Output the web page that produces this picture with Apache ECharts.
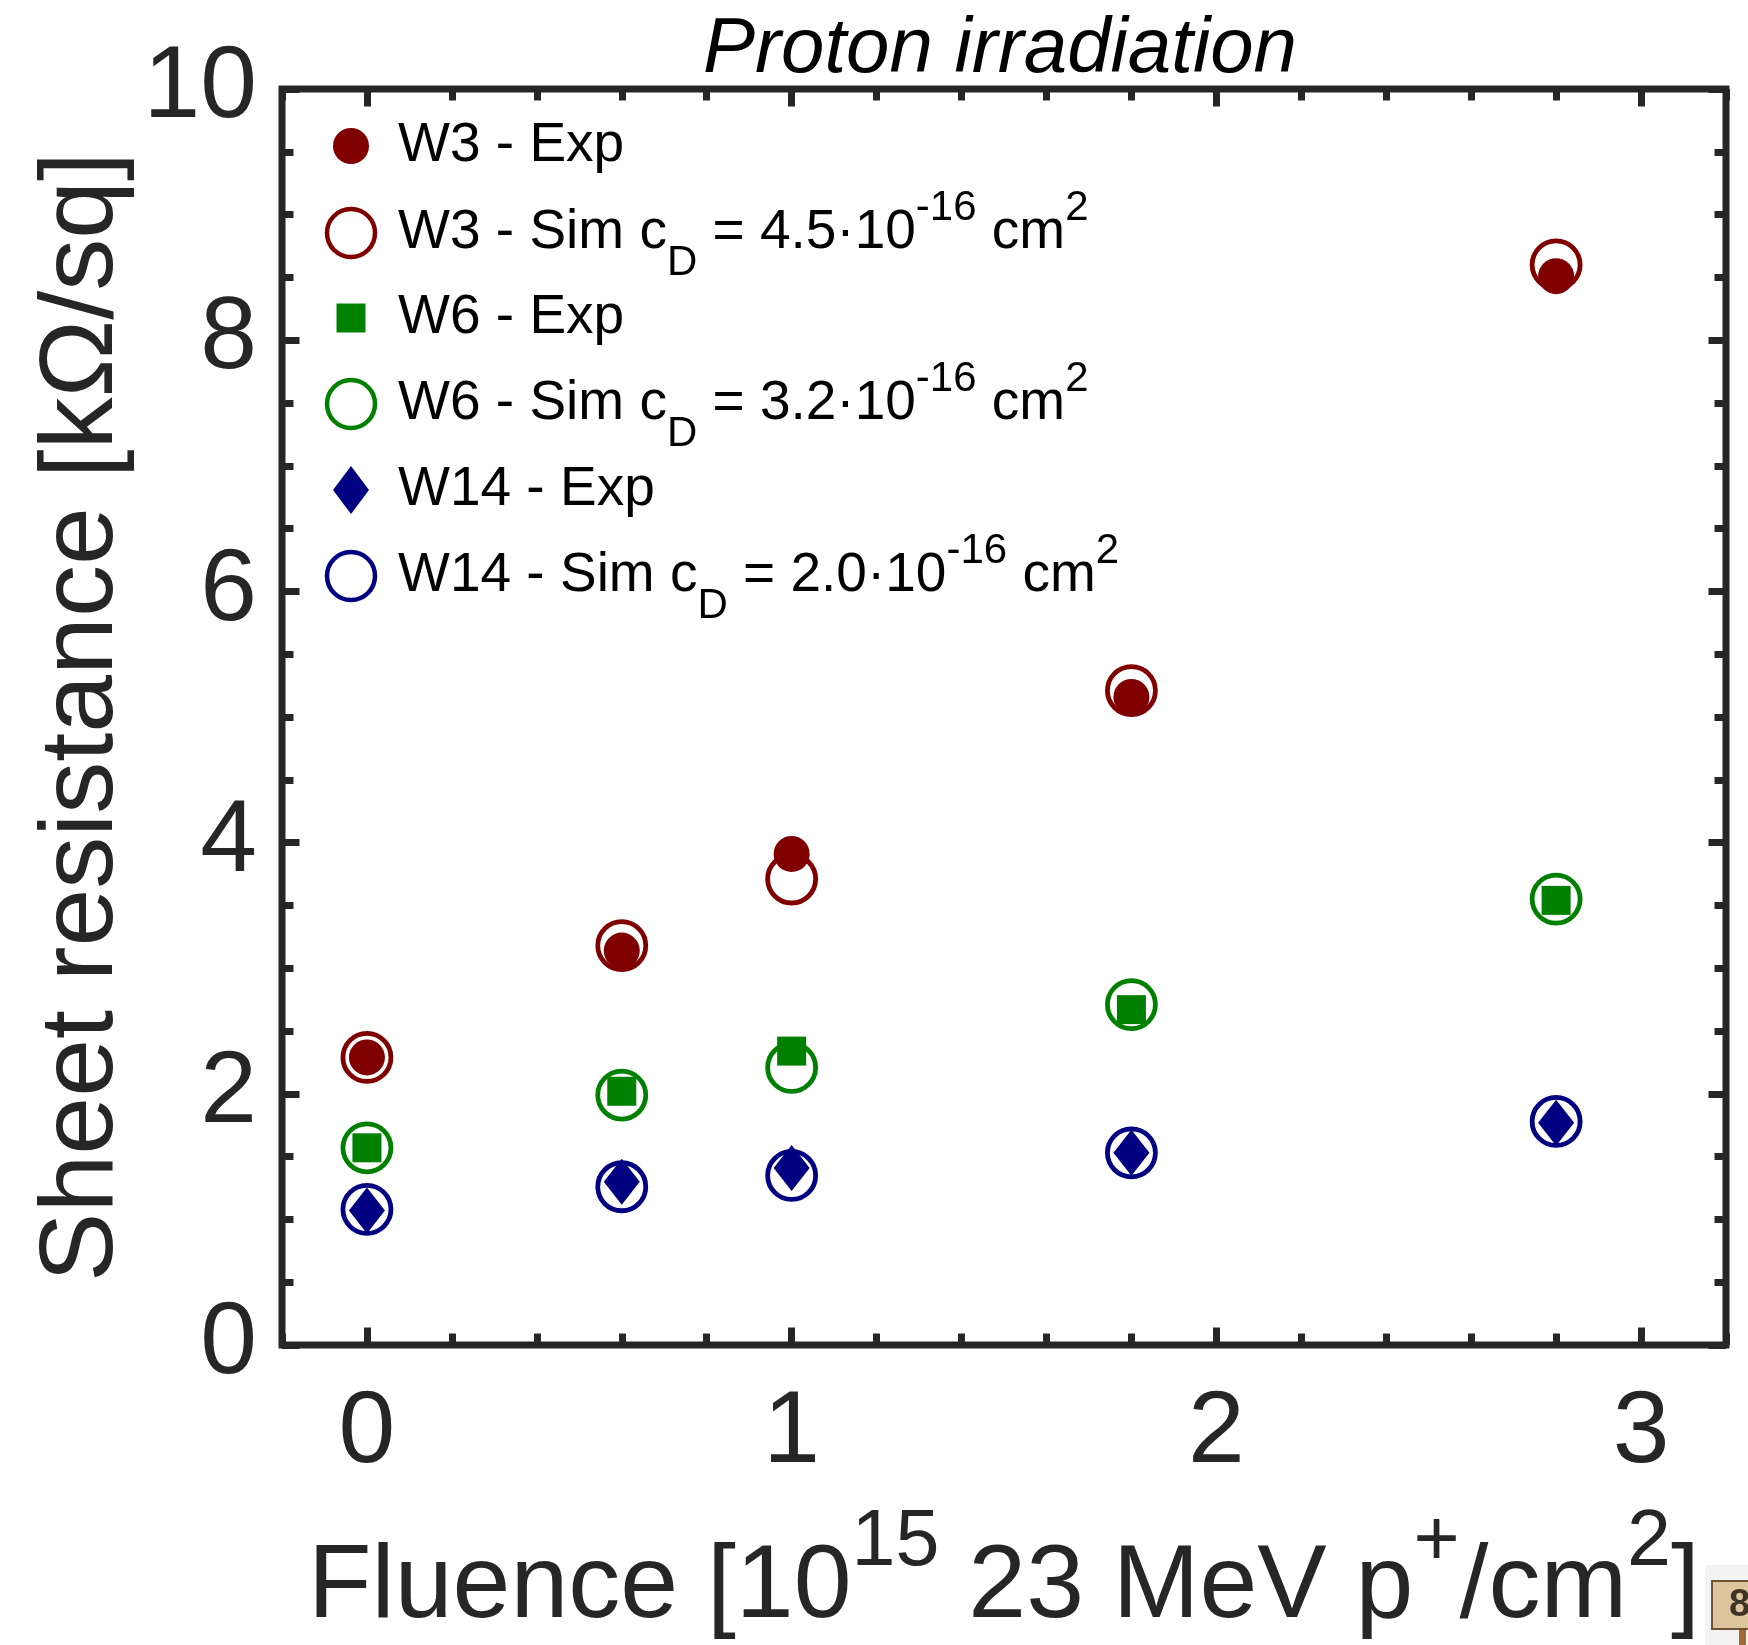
<!DOCTYPE html>
<html>
<head>
<meta charset="utf-8">
<script src="https://cdn.jsdelivr.net/npm/echarts@6/dist/echarts.min.js"></script>
<style>
html,body{margin:0;padding:0;background:#fff;}
#chart{width:1748px;height:1645px;}
</style>
</head>
<body>
<div id="chart"></div>
<script>
// ---- data ----
const fluence = [0, 0.6, 1.0, 1.8, 2.8];
const w3Exp  = [2.29, 3.14, 3.91, 5.16, 8.51];
const w3Sim  = [2.29, 3.18, 3.71, 5.21, 8.60];
const w6Exp  = [1.57, 2.02, 2.34, 2.67, 3.54];
const w6Sim  = [1.57, 1.99, 2.21, 2.71, 3.55];
const w14Exp = [1.07, 1.30, 1.41, 1.53, 1.77];
const w14Sim = [1.08, 1.26, 1.35, 1.53, 1.78];
const seriesNames = ['W3 - Exp', 'W3 - Sim', 'W6 - Exp', 'W6 - Sim', 'W14 - Exp', 'W14 - Sim'];
const cdValues = {'W3 - Sim': '4.5', 'W6 - Sim': '3.2', 'W14 - Sim': '2.0'};
const xTickValues = [0, 1, 2, 3];
const titleText = 'Proton irradiation';
const yTitle = 'Sheet resistance [kΩ/sq]';

// ---- styling ----
const FONT = '"Liberation Sans", Arial, Helvetica, sans-serif';
const AX = '#262626';
const RED = '#800000', GREEN = '#008000', BLUE = '#000080';
const pts = arr => fluence.map((x, i) => [x, arr[i]]);

const chart = echarts.init(document.getElementById('chart'), null, {renderer: 'canvas'});

function xAxisDef(pos, major, labels) {
  const a = {
    type: 'value', position: pos, min: -0.2, max: 3.2,
    axisLine: {show: false, onZero: false}, splitLine: {show: false},
    axisTick: {show: true, inside: true, length: major ? 17.5 : 11.5, lineStyle: {color: AX, width: 7}},
    axisLabel: {show: false},
    nameMoveOverlap: false
  };
  if (major) {
    a.axisTick.customValues = xTickValues;
    if (labels) {
      a.axisLabel = {show: true, customValues: xTickValues, fontSize: 102, fontFamily: FONT, color: AX, margin: 38};
      a.name = 'Fluence [10{sup|15} 23 MeV p{sup|+}/cm{sup|2}]';
      a.nameLocation = 'middle';
      a.nameGap = 183;
      a.nameTextStyle = {
        fontSize: 104, fontFamily: FONT, color: AX, lineHeight: 120,
        rich: {sup: {fontSize: 79, fontFamily: FONT, color: AX, verticalAlign: 'top', height: 30, lineHeight: 10}}
      };
    }
  } else {
    a.interval = 0.2;
  }
  return a;
}
function yAxisDef(pos, major, labels) {
  const a = {
    type: 'value', position: pos, min: 0, max: 10, interval: major ? 2 : 0.5,
    axisLine: {show: false, onZero: false}, splitLine: {show: false},
    axisTick: {show: true, inside: true, length: major ? 17.5 : 11.5, lineStyle: {color: AX, width: 7}},
    axisLabel: {show: false},
    nameMoveOverlap: false
  };
  if (labels) {
    a.axisLabel = {show: true, fontSize: 102, fontFamily: FONT, color: AX, margin: 25};
    a.name = yTitle;
    a.nameLocation = 'middle';
    a.nameRotate = 90;
    a.nameGap = 147;
    a.nameTextStyle = {fontSize: 104, fontFamily: FONT, color: AX, lineHeight: 104};
  }
  return a;
}

const legendRich = {
  sup: {fontSize: 42, fontFamily: FONT, color: '#000', verticalAlign: 'top', height: 30, lineHeight: 10},
  sub: {fontSize: 42, fontFamily: FONT, color: '#000', verticalAlign: 'bottom', height: 20, lineHeight: 10}
};
function legendFormatter(name) {
  if (cdValues[name]) return name + ' c{sub|D} = ' + cdValues[name] + '·10{sup|-16} cm{sup|2}';
  return name;
}
const ICON_CX = 351;
const legendCenters = [146, 232, 318, 403, 490, 575];
const legendIcons = [
  {icon: 'circle', h: 36, half: 18, style: {color: RED, borderWidth: 0}},
  {icon: 'circle', h: 48, half: 26.25, style: {color: 'rgba(0,0,0,0)', borderColor: RED, borderWidth: 4.5}},
  {icon: 'path://M0,0L10,0L10,10L0,10Z', h: 29, half: 14.5, style: {color: GREEN, borderWidth: 0}},
  {icon: 'circle', h: 48, half: 26.25, style: {color: 'rgba(0,0,0,0)', borderColor: GREEN, borderWidth: 4.5}},
  {icon: 'path://M0,-4L3,0L0,4L-3,0Z', h: 48, half: 18, style: {color: BLUE, borderWidth: 0}},
  {icon: 'circle', h: 48, half: 26.25, style: {color: 'rgba(0,0,0,0)', borderColor: BLUE, borderWidth: 4.5}}
];
const legends = seriesNames.map((n, i) => ({
  show: true, selectedMode: false, padding: 0,
  left: ICON_CX - legendIcons[i].half,
  top: legendCenters[i] - (cdValues[n] ? 45 : 40),
  itemWidth: 84, itemHeight: legendIcons[i].h,
  data: [{name: n, icon: legendIcons[i].icon}],
  itemStyle: legendIcons[i].style,
  formatter: legendFormatter,
  textStyle: {fontSize: 55, fontFamily: FONT, color: '#000', lineHeight: 80, rich: legendRich}
}));

function filled(name, arr, symbol, size, color) {
  return {type: 'scatter', name, data: pts(arr), symbol, symbolSize: size,
    itemStyle: {color, borderWidth: 0, opacity: 1}, z: 4, emphasis: {disabled: true}};
}
function ring(name, arr, color) {
  return {type: 'scatter', name, data: pts(arr), symbol: 'circle', symbolSize: 48,
    itemStyle: {color: 'rgba(0,0,0,0)', borderColor: color, borderWidth: 4.8, opacity: 1}, z: 3, emphasis: {disabled: true}};
}

const option = {
  animation: false,
  backgroundColor: '#fff',
  title: {
    text: titleText, left: 703, top: 11, padding: 0,
    textStyle: {fontSize: 78, fontStyle: 'italic', fontWeight: 'normal', fontFamily: FONT, color: '#000'}
  },
  grid: {
    left: 282, right: 22, top: 89, bottom: 300,
    show: true, borderColor: AX, borderWidth: 7, backgroundColor: 'rgba(0,0,0,0)',
    containLabel: false, outerBoundsMode: 'none'
  },
  legend: legends,
  xAxis: [xAxisDef('bottom', false), xAxisDef('bottom', true, true), xAxisDef('top', false), xAxisDef('top', true, false)],
  yAxis: [yAxisDef('left', false), yAxisDef('left', true, true), yAxisDef('right', false), yAxisDef('right', true, false)],
  tooltip: {show: false},
  series: [
    filled(seriesNames[0], w3Exp, 'circle', 36, RED),
    ring(seriesNames[1], w3Sim, RED),
    filled(seriesNames[2], w6Exp, 'rect', 29, GREEN),
    ring(seriesNames[3], w6Sim, GREEN),
    filled(seriesNames[4], w14Exp, 'diamond', [36, 46], BLUE),
    ring(seriesNames[5], w14Sim, BLUE)
  ],
  graphic: [
    {type: 'rect', silent: true, shape: {x: 1705, y: 1565, width: 43, height: 80}, style: {fill: '#f3f3f3'}},
    {type: 'rect', silent: true, shape: {x: 1739, y: 1626, width: 7, height: 19}, style: {fill: '#a06a35'}},
    {type: 'rect', silent: true, shape: {x: 1712, y: 1581, width: 60, height: 48}, style: {fill: '#dcc49d', stroke: '#6f5336', lineWidth: 2}},
    {type: 'text', silent: true, style: {text: '8', x: 1729, y: 1606, font: 'bold 38px ' + FONT, fill: '#3d3426', verticalAlign: 'middle'}}
  ]
};
chart.setOption(option);
</script>
</body>
</html>
